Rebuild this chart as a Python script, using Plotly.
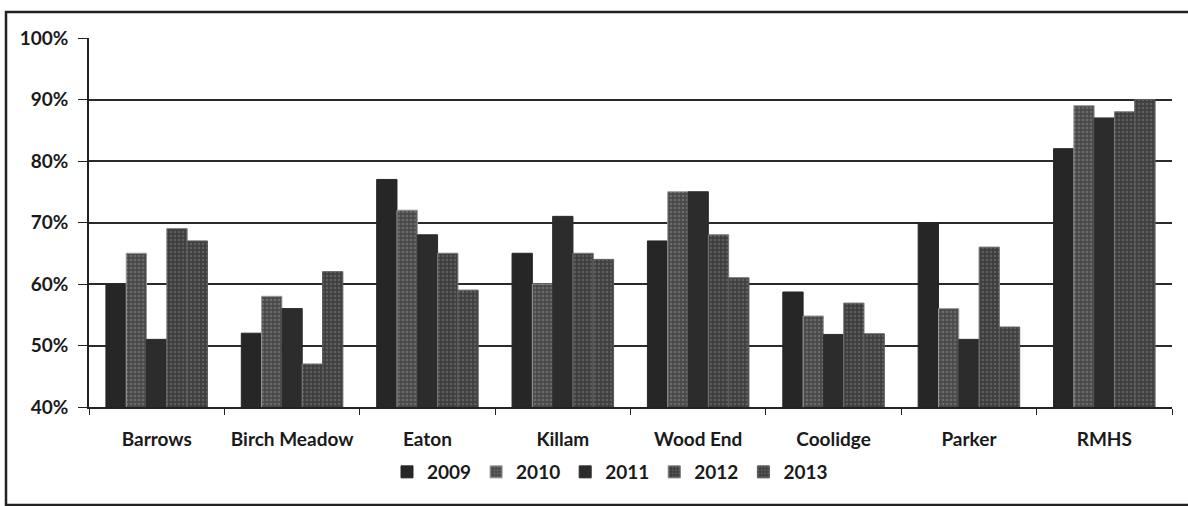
import plotly.graph_objects as go

# School-level rates by year, 2009-2013
schools = ["Barrows", "Birch Meadow", "Eaton", "Killam", "Wood End", "Coolidge", "Parker", "RMHS"]
years = ["2009", "2010", "2011", "2012", "2013"]

rate_2009 = [0.60, 0.52, 0.77, 0.65, 0.67, 0.587, 0.70, 0.82]
rate_2010 = [0.65, 0.58, 0.72, 0.60, 0.75, 0.548, 0.56, 0.89]
rate_2011 = [0.51, 0.56, 0.68, 0.71, 0.75, 0.518, 0.51, 0.87]
rate_2012 = [0.69, 0.47, 0.65, 0.65, 0.68, 0.569, 0.66, 0.88]
rate_2013 = [0.67, 0.62, 0.59, 0.64, 0.61, 0.519, 0.53, 0.90]

series = [rate_2009, rate_2010, rate_2011, rate_2012, rate_2013]

# fill styles per year: solid dark or speckled grey
styles = [
    dict(color="#262626", pattern=None, line="#262626"),
    dict(color="#555555", pattern=dict(shape=".", fgcolor="#8c8c8c", bgcolor="#4a4a4a", size=4, solidity=0.35), line="#9a9a9a"),
    dict(color="#2c2c2c", pattern=None, line="#2c2c2c"),
    dict(color="#484848", pattern=dict(shape=".", fgcolor="#7c7c7c", bgcolor="#3e3e3e", size=4, solidity=0.3), line="#7a7a7a"),
    dict(color="#4a4a4a", pattern=dict(shape=".", fgcolor="#808080", bgcolor="#404040", size=4, solidity=0.3), line="#5a5a5a"),
]

font_family = "Lato, Carlito, Calibri, 'Open Sans', sans-serif"

fig = go.Figure()
for yr, vals, st in zip(years, series, styles):
    marker = dict(color=st["color"], line=dict(color=st["line"], width=1))
    if st["pattern"]:
        marker["pattern"] = st["pattern"]
    fig.add_trace(go.Bar(name=yr, x=schools, y=vals, marker=marker))

W, H = 1188, 506
L, R, T, B = 89, 16, 38, 99
pw, ph = W - L - R, H - T - B

def px_to_paper_x(px):
    return (px - L) / pw

def px_to_paper_y(py):
    return (H - B - py) / ph

fig.update_layout(
    width=W, height=H,
    margin=dict(l=L, r=R, t=T, b=B),
    paper_bgcolor="white",
    plot_bgcolor="white",
    barmode="group",
    bargap=0.25,
    bargroupgap=0,
    font=dict(family=font_family, size=19, color="#1a1a1a", weight="bold"),
    showlegend=True,
    legend=dict(
        orientation="h",
        x=px_to_paper_x(610), xanchor="center",
        y=px_to_paper_y(472), yanchor="middle",
        font=dict(size=19, weight="bold"),
        itemwidth=30,
        traceorder="normal",
        bgcolor="rgba(0,0,0,0)",
    ),
    xaxis=dict(
        type="category",
        showline=True, linecolor="#222", linewidth=1.5,
        ticks="outside", tickson="boundaries", ticklen=6, tickcolor="#222",
        showgrid=False,
        tickfont=dict(size=19, weight="bold"),
        ticklabelstandoff=14,
    ),
    yaxis=dict(
        range=[0.4, 1.0],
        dtick=0.1,
        tickformat=".0%",
        showline=True, linecolor="#222", linewidth=1.5,
        ticks="outside", ticklen=9, tickcolor="#222",
        showgrid=True, gridcolor="#2a2a2a", gridwidth=1.5,
        tickfont=dict(size=19, weight="bold"),
        ticklabelstandoff=6,
        zeroline=False,
    ),
    shapes=[
        dict(
            type="rect", xref="paper", yref="paper",
            x0=px_to_paper_x(6), x1=px_to_paper_x(1205),
            y0=px_to_paper_y(505), y1=px_to_paper_y(12),
            line=dict(color="#222", width=2.5),
            fillcolor="rgba(0,0,0,0)", layer="below",
        )
    ],
)

fig.write_html("out.html")
